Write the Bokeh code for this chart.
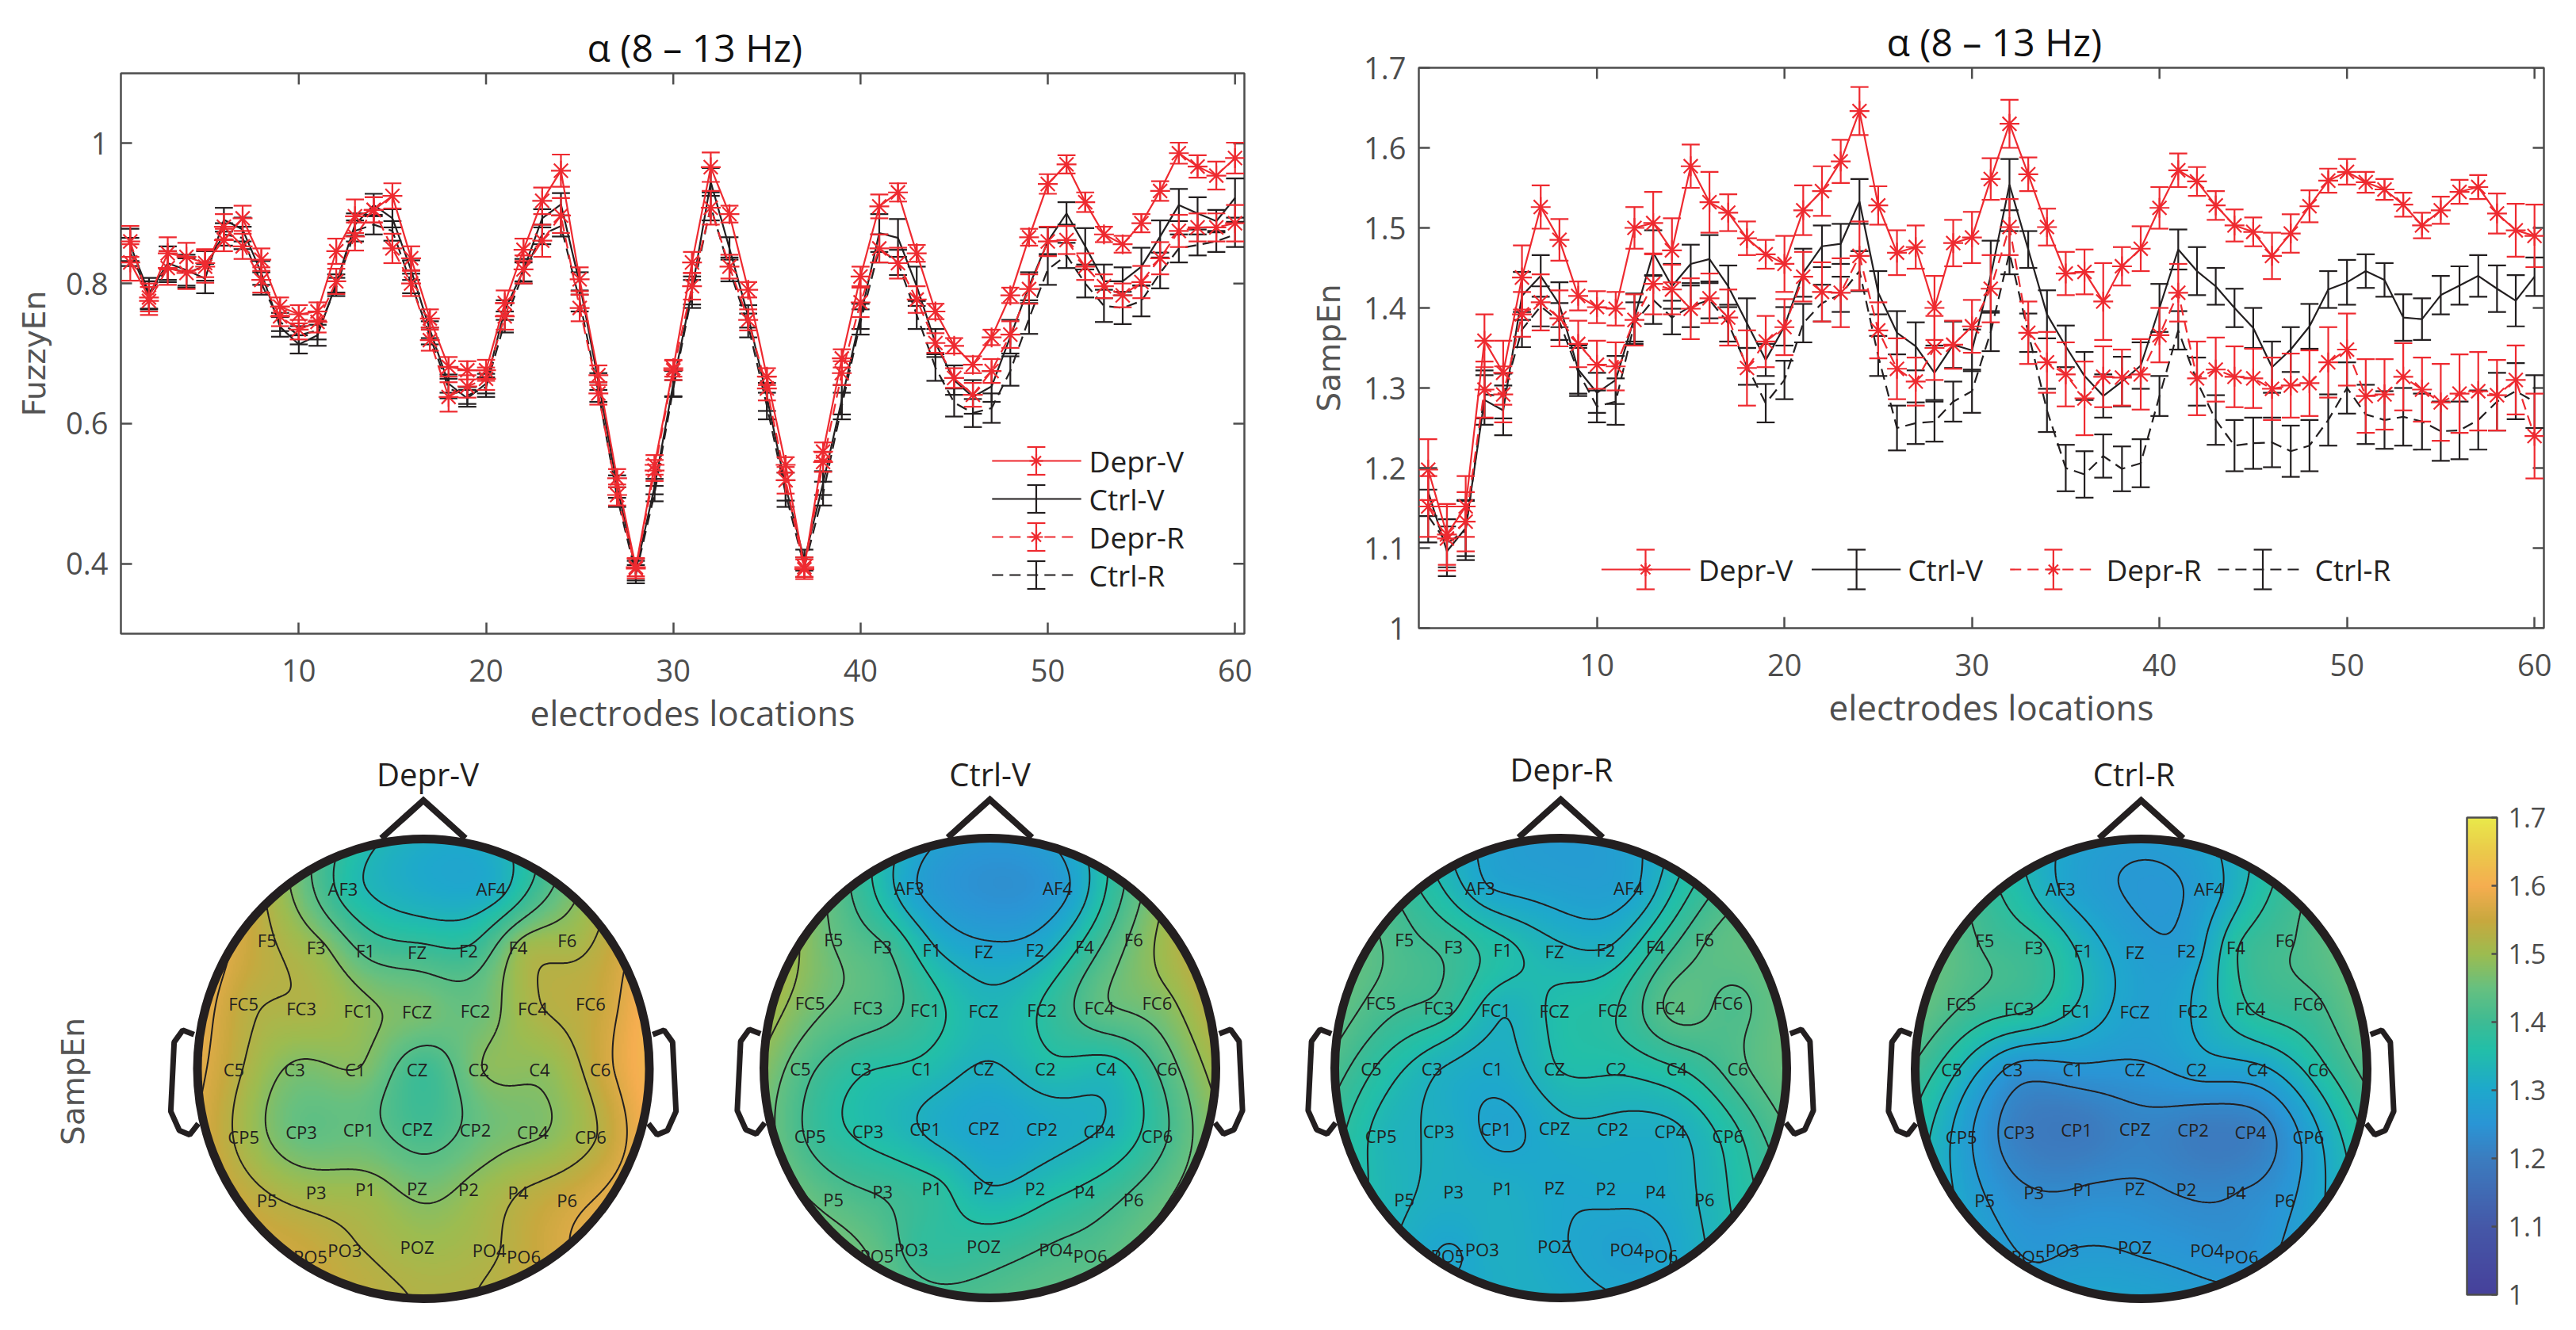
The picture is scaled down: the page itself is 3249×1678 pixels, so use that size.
import numpy as np
from bokeh.embed import file_html
from bokeh.resources import INLINE
from bokeh.plotting import figure
from bokeh.layouts import column, row
from bokeh.core.properties import value
from bokeh.models import FixedTicker, Title, Range1d, LinearColorMapper, ColorBar

# ---------- data ----------
ELECTRODE = [1 + i for i in range(60)]
FUZZY_DV = [.83,.78,.843,.838,.829,.862,.893,.834,.767,.756,.76,.846,.896,.905,.925,.836,.75,.681,.676,.676,
            .772,.848,.918,.961,.806,.669,.522,.395,.541,.679,.83,.966,.899,.791,.667,.541,.395,.56,.693,.81,
            .91,.93,.843,.76,.711,.684,.723,.783,.866,.942,.97,.916,.87,.856,.886,.932,.986,.967,.954,.979]
FUZZY_DV_E = [.026,.02,.023,.02,.02,.016,.018,.016,.013,.013,.013,.018,.024,.018,.018,.017,.013,.014,.013,.015,
              .018,.016,.019,.023,.017,.014,.013,.013,.014,.012,.015,.021,.012,.011,.012,.011,.014,.013,.013,.014,
              .017,.013,.012,.011,.011,.012,.011,.011,.012,.014,.013,.014,.011,.012,.013,.014,.015,.016,.02,.022]
FUZZY_CV = [.855,.786,.829,.819,.807,.891,.877,.815,.738,.713,.726,.80,.884,.912,.893,.819,.734,.657,.636,.657,
            .762,.819,.893,.913,.80,.66,.51,.39,.51,.657,.79,.945,.85,.753,.638,.51,.405,.515,.634,.753,
            .872,.865,.796,.715,.662,.638,.653,.724,.796,.86,.90,.853,.803,.803,.824,.867,.912,.90,.889,.922]
FUZZY_CV_E = [.023,.022,.024,.022,.021,.017,.017,.017,.014,.013,.015,.013,.016,.016,.013,.014,.012,.013,.012,.014,
              .014,.016,.013,.016,.016,.012,.016,.014,.011,.018,.02,.02,.016,.016,.02,.02,.015,.017,.021,.018,
              .027,.027,.028,.02,.021,.024,.022,.024,.02,.02,.016,.026,.024,.02,.027,.023,.023,.023,.016,.028]
FUZZY_DR = [.86,.775,.822,.815,.824,.881,.853,.805,.753,.734,.745,.803,.867,.905,.85,.80,.719,.638,.653,.664,
            .753,.82,.861,.897,.765,.643,.498,.393,.533,.676,.796,.908,.824,.748,.65,.519,.392,.545,.672,.773,
            .85,.829,.777,.715,.665,.641,.675,.727,.792,.86,.862,.824,.796,.783,.802,.836,.875,.88,.88,.886]
FUZZY_DR_E = [.022,.02,.024,.023,.023,.018,.018,.018,.014,.014,.015,.018,.02,.018,.021,.018,.015,.021,.016,.016,
              .019,.02,.023,.025,.019,.016,.015,.014,.015,.014,.019,.024,.017,.015,.017,.019,.014,.014,.017,.021,
              .02,.022,.019,.014,.014,.017,.017,.019,.021,.021,.02,.019,.017,.017,.023,.023,.023,.02,.02,.026]
FUZZY_CR = [.845,.783,.824,.815,.825,.87,.865,.80,.745,.726,.733,.795,.875,.884,.875,.80,.725,.65,.64,.652,
            .745,.815,.87,.882,.775,.645,.495,.385,.50,.65,.785,.91,.82,.74,.625,.50,.395,.50,.625,.745,
            .85,.83,.755,.68,.63,.615,.622,.675,.75,.82,.84,.80,.768,.765,.775,.815,.85,.855,.86,.87]
FUZZY_CR_E = [.02,.02,.022,.021,.021,.016,.016,.016,.013,.013,.013,.013,.015,.014,.014,.014,.012,.014,.012,.014,
              .015,.015,.014,.015,.015,.014,.014,.013,.011,.012,.02,.02,.017,.017,.019,.019,.014,.017,.019,.018,
              .02,.018,.02,.019,.02,.02,.021,.021,.022,.022,.018,.02,.023,.023,.022,.022,.02,.015,.015,.018]

SAMP_DV = [1.198,1.117,1.152,1.359,1.319,1.438,1.526,1.485,1.415,1.401,1.399,1.50,1.506,1.472,1.577,1.532,1.519,1.487,1.467,1.455,
           1.522,1.546,1.583,1.646,1.528,1.469,1.476,1.40,1.481,1.488,1.561,1.63,1.567,1.501,1.443,1.445,1.408,1.452,1.474,1.525,
           1.572,1.558,1.528,1.503,1.495,1.465,1.493,1.527,1.559,1.57,1.557,1.548,1.529,1.503,1.522,1.545,1.551,1.518,1.497,1.49]
SAMP_DV_E = [.038,.038,.038,.033,.04,.04,.027,.026,.018,.02,.021,.026,.039,.04,.027,.038,.023,.021,.018,.035,
             .031,.031,.027,.03,.024,.028,.027,.04,.029,.032,.026,.03,.021,.023,.027,.028,.048,.024,.028,.026,
             .021,.018,.018,.02,.018,.029,.024,.02,.015,.016,.013,.013,.015,.016,.017,.015,.015,.025,.033,.039]
SAMP_CV = [1.17,1.096,1.125,1.285,1.272,1.415,1.44,1.404,1.323,1.294,1.31,1.388,1.469,1.427,1.455,1.461,1.427,1.381,1.335,1.377,
           1.444,1.477,1.48,1.533,1.419,1.369,1.352,1.319,1.354,1.347,1.44,1.554,1.473,1.392,1.352,1.315,1.29,1.308,1.328,1.40,
           1.473,1.446,1.427,1.40,1.375,1.326,1.348,1.377,1.423,1.432,1.446,1.435,1.388,1.386,1.416,1.428,1.44,1.424,1.409,1.439]
SAMP_CV_E = [.03,.031,.035,.031,.031,.03,.026,.028,.03,.025,.03,.03,.028,.028,.024,.03,.026,.031,.02,.024,
             .03,.026,.025,.028,.027,.027,.03,.034,.029,.026,.044,.032,.023,.03,.026,.03,.027,.031,.029,.03,
             .025,.03,.023,.024,.025,.032,.028,.028,.023,.028,.021,.021,.029,.026,.024,.024,.026,.029,.032,.024]
SAMP_DR = [1.152,1.112,1.133,1.298,1.292,1.392,1.407,1.387,1.355,1.329,1.327,1.385,1.43,1.423,1.399,1.412,1.388,1.325,1.358,1.376,
           1.439,1.42,1.419,1.465,1.372,1.324,1.308,1.35,1.354,1.377,1.424,1.501,1.369,1.332,1.317,1.287,1.314,1.313,1.317,1.366,
           1.419,1.312,1.323,1.314,1.312,1.299,1.303,1.306,1.332,1.348,1.29,1.292,1.314,1.298,1.282,1.293,1.296,1.291,1.31,1.24]
SAMP_DR_E = [.038,.04,.037,.035,.035,.028,.035,.035,.029,.03,.03,.032,.038,.031,.038,.031,.035,.047,.032,.035,
             .031,.037,.043,.043,.035,.038,.03,.04,.03,.033,.042,.035,.039,.038,.04,.046,.038,.035,.044,.034,
             .036,.046,.04,.038,.037,.039,.04,.041,.044,.045,.046,.044,.042,.04,.048,.049,.049,.044,.043,.053]
SAMP_CR = [1.14,1.106,1.122,1.292,1.29,1.373,1.402,1.383,1.32,1.277,1.283,1.381,1.41,1.388,1.402,1.41,1.381,1.327,1.281,1.31,
           1.381,1.406,1.417,1.446,1.34,1.25,1.256,1.258,1.283,1.296,1.37,1.469,1.369,1.272,1.20,1.192,1.215,1.199,1.206,1.29,
           1.372,1.308,1.26,1.228,1.231,1.232,1.221,1.228,1.26,1.30,1.267,1.26,1.264,1.258,1.246,1.247,1.26,1.283,1.296,1.283]
SAMP_CR_E = [.033,.03,.037,.03,.028,.022,.025,.023,.03,.02,.029,.026,.03,.021,.026,.023,.023,.023,.024,.024,
             .024,.023,.022,.025,.025,.028,.026,.025,.025,.027,.024,.027,.024,.027,.029,.029,.027,.028,.03,.025,
             .024,.03,.031,.032,.032,.031,.032,.032,.032,.032,.037,.036,.036,.035,.037,.036,.037,.036,.035,.033]

X_TICKS = [10, 20, 30, 40, 50, 60]
Y1_TICKS = [0.4, 0.6, 0.8, 1.0]
Y2_TICKS = [1.0, 1.1, 1.2, 1.3, 1.4, 1.5, 1.6, 1.7]
SERIES_NAMES = ["Depr-V", "Ctrl-V", "Depr-R", "Ctrl-R"]

# electrodes (order of the x axis) and their places on the head map, head radius = 1
ELEC_NAMES = ["FP1","FPZ","FP2","AF3","AF4","F7","F5","F3","F1","FZ","F2","F4","F6","F8",
              "FT7","FC5","FC3","FC1","FCZ","FC2","FC4","FC6","FT8",
              "T7","C5","C3","C1","CZ","C2","C4","C6","T8",
              "TP7","CP5","CP3","CP1","CPZ","CP2","CP4","CP6","TP8",
              "P7","P5","P3","P1","PZ","P2","P4","P6","P8",
              "PO7","PO5","PO3","POZ","PO4","PO6","PO8","O1","OZ","O2"]
ELEC_U = [-.333,0,.333,-.328,.328,-.879,-.664,-.447,-.228,0,.228,.447,.664,.879,
          -1.03,-.768,-.512,-.258,0,.258,.512,.768,1.03,
          -1.081,-.811,-.542,-.273,0,.273,.542,.811,1.081,
          -1.03,-.768,-.512,-.258,0,.258,.512,.768,1.03,
          -.879,-.664,-.447,-.228,0,.228,.447,.664,.879,
          -.637,-.472,-.32,0,.32,.472,.637,-.333,0,.333]
ELEC_V = [1.037,1.088,1.037,.783,.783,.641,.562,.53,.514,.507,.514,.53,.562,.641,
          .336,.285,.263,.253,.25,.253,.263,.285,.336,
          0,0,0,0,0,0,0,0,0,
          -.336,-.295,-.274,-.264,-.261,-.264,-.274,-.295,-.336,
          -.641,-.57,-.535,-.524,-.519,-.524,-.535,-.57,-.641,
          -.885,-.814,-.788,-.773,-.788,-.814,-.885,-1.037,-1.088,-1.037]
HIDDEN = {"FP1","FPZ","FP2","F7","F8","FT7","FT8","T7","T8","TP7","TP8","P7","P8","PO7","PO8","O1","OZ","O2"}

# colour scale anchors
CB_STOPS = [1.0, 1.1, 1.2, 1.25, 1.3, 1.36, 1.4, 1.45, 1.5, 1.55, 1.6, 1.65, 1.7]
CB_HEX = ["#46419b","#4558a8","#3b7dc0","#2a95d5","#1ea8cc","#22bfa8","#3dbb94","#66c080","#9cbc50","#c8a83e","#f5ad50","#ebc94a","#e9e84a"]

for s in (FUZZY_DV,FUZZY_DV_E,FUZZY_CV,FUZZY_CV_E,FUZZY_DR,FUZZY_DR_E,FUZZY_CR,FUZZY_CR_E,
          SAMP_DV,SAMP_DV_E,SAMP_CV,SAMP_CV_E,SAMP_DR,SAMP_DR_E,SAMP_CR,SAMP_CR_E,ELEC_NAMES,ELEC_U,ELEC_V):
    assert len(s) == 60, len(s)

# ---------- style ----------
RED = "#ee2a30"; BLACK = "#231f20"; GRAY = "#4d4d4d"
LW = 2.2; DASH = "14 8"; CAP = 0.48
TICK_FONT = "Open Sans"

def make_plot(width, height, yr, yticks, left, right, top, bottom, title, ylabel, title_offset, xlabel_offset, ylabel_standoff):
    p = figure(width=width, height=height, x_range=(0.5, 60.5), y_range=yr, output_backend="svg",
               toolbar_location=None, min_border_left=left, min_border_right=right,
               min_border_top=top, min_border_bottom=bottom, background_fill_color="white")
    p.frame_align = False
    p.grid.visible = False
    p.outline_line_color = GRAY; p.outline_line_width = 2.5
    over = {t: ("1" if t == 1.0 else f"{t:.1f}") for t in yticks}
    ax = p.xaxis[0]; ay = p.yaxis[0]
    ax.ticker = FixedTicker(ticks=X_TICKS); ay.ticker = FixedTicker(ticks=yticks)
    ay.major_label_overrides = over
    for a in (ax, ay):
        a.major_tick_in = 14; a.major_tick_out = 0; a.minor_tick_line_color = None
        a.axis_line_color = None; a.major_tick_line_color = GRAY; a.major_tick_line_width = 2.5
        a.major_label_text_font = TICK_FONT; a.major_label_text_font_size = "38px"
        a.major_label_text_color = GRAY
    ax.major_label_standoff = 32; ay.major_label_standoff = 16
    ay.axis_label = ylabel; ay.axis_label_text_font = "DejaVu Sans"; ay.axis_label_text_font_size = "39px"
    ay.axis_label_text_font_style = "normal"; ay.axis_label_text_color = "#555555"; ay.axis_label_standoff = ylabel_standoff
    # ticks along the top and right edges of the box
    hx = (yr[1] - yr[0]) * 14 / (height - top - bottom)
    hy = 60 * 14 / (width - left - right)
    xt = np.array(X_TICKS, float); yt = np.array(yticks, float)
    p.segment(xt, yr[1], xt, yr[1] - hx, line_color=GRAY, line_width=2.5)
    p.segment(60.5, yt, 60.5 - hy, yt, line_color=GRAY, line_width=2.5)
    p.title = Title(text=title, align="left", offset=title_offset, text_font=TICK_FONT, text_font_size="48px",
                    text_font_style="normal", text_color="#111111", standoff=2)
    p.add_layout(Title(text="electrodes locations", align="left", offset=xlabel_offset, text_font=TICK_FONT,
                       text_font_size="44px", text_font_style="normal", text_color=GRAY, standoff=8), "below")
    return p

def draw_series(p, y, e, color, dash, marker):
    x = np.array(ELECTRODE, float); y = np.array(y); e = np.array(e)
    p.line(x, y, line_color=color, line_width=LW, line_dash=dash)
    p.segment(x, y - e, x, y + e, line_color=color, line_width=LW)
    p.segment(x - CAP, y + e, x + CAP, y + e, line_color=color, line_width=LW)
    p.segment(x - CAP, y - e, x + CAP, y - e, line_color=color, line_width=LW)
    if marker:
        p.scatter(x, y, marker="asterisk", size=25, line_color=color, line_width=LW, fill_color=None)

def legend_key(p, name, color, dash, marker, k0, k1, kc, ky, half_h, tx, frame, font):
    # legend geometry is given in page pixels and turned into data units of this plot
    L, R, T, B, x0, x1, y0, y1 = frame
    dx = lambda s: x0 + (s - L) * (x1 - x0) / (R - L)
    dy = lambda s: y0 + (B - s) * (y1 - y0) / (B - T)
    p.line([dx(k0), dx(k1)], [dy(ky), dy(ky)], line_color=color, line_width=LW, line_dash=dash)
    p.line([dx(kc), dx(kc)], [dy(ky - half_h), dy(ky + half_h)], line_color=color, line_width=LW)
    for h in (-half_h, half_h):
        p.line([dx(kc - 11.5), dx(kc + 11.5)], [dy(ky + h), dy(ky + h)], line_color=color, line_width=LW)
    if marker:
        p.scatter([dx(kc)], [dy(ky)], marker="asterisk", size=17, line_color=color, line_width=LW, fill_color=None)
    p.text([dx(tx)], [dy(ky)], text=[name], text_font=value(TICK_FONT), text_font_size=font, text_color=BLACK,
           text_align="left", text_baseline="middle")

ROW1_H = 941

# ---------- top left ----------
p1 = make_plot(1642, ROW1_H, (0.3, 1.1), Y1_TICKS, 152, 73, 92, ROW1_H - 799, "α (8 – 13 Hz)", "FuzzyEn", 588, 516, 14)
draw_series(p1, FUZZY_CR, FUZZY_CR_E, BLACK, DASH, False)
draw_series(p1, FUZZY_CV, FUZZY_CV_E, BLACK, "solid", False)
draw_series(p1, FUZZY_DR, FUZZY_DR_E, RED, DASH, True)
draw_series(p1, FUZZY_DV, FUZZY_DV_E, RED, "solid", True)
F1 = (152, 1577, 92, 799, 0.5, 60.5, 0.3, 1.1)
for i, (c, d, m) in enumerate([(RED, "solid", True), (BLACK, "solid", False), (RED, DASH, True), (BLACK, DASH, False)]):
    legend_key(p1, SERIES_NAMES[i], c, d, m, 1257, 1370 if d == "solid" else 1362, 1313, 581 + 48 * i, 17.5, 1380, F1, "37px")

# ---------- top right ----------
p2 = make_plot(1590, ROW1_H, (1.0, 1.7), Y2_TICKS, 147, 24, 85, ROW1_H - 792, "α (8 – 13 Hz)", "SampEn", 590, 517, 18)
draw_series(p2, SAMP_CR, SAMP_CR_E, BLACK, DASH, False)
draw_series(p2, SAMP_CV, SAMP_CV_E, BLACK, "solid", False)
draw_series(p2, SAMP_DR, SAMP_DR_E, RED, DASH, True)
draw_series(p2, SAMP_DV, SAMP_DV_E, RED, "solid", True)
F2 = (1787, 3216, 85, 792, 0.5, 60.5, 1.0, 1.7)
KEYS = [(2019, 2132, 2075, 2142, RED, "solid", True), (2286, 2399, 2343, 2408, BLACK, "solid", False),
        (2538, 2642, 2593, 2660, RED, DASH, True), (2802, 2906, 2859, 2925, BLACK, DASH, False)]
for i, (k0, k1, kc, tx, c, d, m) in enumerate(KEYS):
    legend_key(p2, SERIES_NAMES[i], c, d, m, k0, k1, kc, 718, 25, tx, F2, "37px")

# ---------- head maps ----------
grid_stops = np.array(CB_STOPS)
rgb = np.array([[int(h[j:j + 2], 16) for j in (1, 3, 5)] for h in CB_HEX], float)
lv = np.linspace(1.0, 1.7, 256)
PALETTE = ["#%02x%02x%02x" % tuple(int(round(np.interp(v, grid_stops, rgb[:, c]))) for c in range(3)) for v in lv]
mapper = LinearColorMapper(palette=PALETTE, low=1.0, high=1.7, nan_color="rgba(0,0,0,0)")

USED = [i for i, n in enumerate(ELEC_NAMES) if n not in HIDDEN]

def biharmonic(vals, n=301):
    xy = np.array([[ELEC_U[i], ELEC_V[i]] for i in USED])
    v = np.array([vals[i] for i in USED])
    d = np.linalg.norm(xy[:, None] - xy[None], axis=2)
    with np.errstate(divide="ignore", invalid="ignore"):
        G = d ** 2 * (np.log(d) - 1)
    G[d == 0] = 0
    w = np.linalg.solve(G, v)
    g = np.linspace(-1, 1, n)
    X, Y = np.meshgrid(g, g)
    D = np.sqrt((X[..., None] - xy[:, 0]) ** 2 + (Y[..., None] - xy[:, 1]) ** 2)
    with np.errstate(divide="ignore", invalid="ignore"):
        K = D ** 2 * (np.log(D) - 1)
    K = np.nan_to_num(K)
    Z = (K * w).sum(axis=2)
    Z[X ** 2 + Y ** 2 > 1] = np.nan
    return X, Y, Z

EAR_U = [-1.015, -1.065, -1.103, -1.118, -1.08, -1.034, -0.996]
EAR_V = [0.149, 0.168, 0.116, -0.185, -0.268, -0.287, -0.238]
NOSE_U = [-.186, 0, .186]
NOSE_V = [1.003, 1.168, 1.003]
RX, RY = 285, 290
ROW_TOP, ROW_H = ROW1_H, 729

def make_head(x0, x1, cx, cy, vals, title, tx, ty):
    p = figure(width=x1 - x0, height=ROW_H, output_backend="svg", toolbar_location=None,
               x_range=Range1d((x0 - cx) / RX, (x1 - cx) / RX),
               y_range=Range1d((cy - ROW_TOP - ROW_H) / RY, (cy - ROW_TOP) / RY),
               min_border=0, x_axis_location=None, y_axis_location=None, outline_line_color=None)
    p.frame_align = False
    p.grid.visible = False
    X, Y, Z = biharmonic(vals)
    p.image(image=[Z], x=-1, y=-1, dw=2, dh=2, color_mapper=mapper)
    lo, hi = np.nanmin(Z), np.nanmax(Z)
    lev = list(np.linspace(lo, hi, 8)[1:-1])
    p.contour(X, Y, Z, lev, line_color=BLACK, line_width=2)
    names = [ELEC_NAMES[i] for i in USED]
    us = [ELEC_U[i] - 8 / RX for i in USED]
    vs = [ELEC_V[i] for i in USED]
    p.text(us, vs, text=names, text_font=value(TICK_FONT), text_font_size="22px", text_color=BLACK,
           text_align="center", text_baseline="middle")
    p.ellipse(x=[0], y=[0], width=[2], height=[2], fill_color=None, line_color=BLACK, line_width=11)
    p.line(NOSE_U, NOSE_V, line_color=BLACK, line_width=8, line_join="miter")
    p.line(EAR_U, EAR_V, line_color=BLACK, line_width=7)
    p.line([-u for u in EAR_U], EAR_V, line_color=BLACK, line_width=7)
    p.text([(tx - cx) / RX], [(cy - ty) / RY], text=[title], text_font=value(TICK_FONT), text_font_size="40px",
           text_color=BLACK, text_align="center", text_baseline="middle")
    return p

t1 = make_head(8, 900, 541.5, 1348, SAMP_DV, "Depr-V", 547, 976)
t1.text([(100 - 541.5) / RX], [(1348 - 1364) / RY], text=["SampEn"], angle=np.pi / 2, text_font=value("DejaVu Sans"),
        text_font_size="39px", text_color="#555555", text_align="center", text_baseline="middle")
t2 = make_head(900, 1620, 1256, 1347, SAMP_CV, "Ctrl-V", 1256, 976)
t3 = make_head(1620, 2360, 1976, 1347, SAMP_DR, "Depr-R", 1977, 970)
t4 = make_head(2360, 3100, 2708, 1348, SAMP_CR, "Ctrl-R", 2699, 976)

cbf = figure(width=140, height=ROW_H, output_backend="svg", toolbar_location=None, x_range=Range1d(0, 1), y_range=Range1d(0, 1),
             min_border=0, x_axis_location=None, y_axis_location=None, outline_line_color=None)
cbf.frame_align = False
cbf.grid.visible = False
cb = ColorBar(color_mapper=mapper, location=(19, 37), width=38, height=602, padding=0,
              ticker=FixedTicker(ticks=Y2_TICKS), major_label_overrides={t: ("1" if t == 1.0 else f"{t:.1f}") for t in Y2_TICKS},
              major_tick_in=7, major_tick_line_color=GRAY, major_tick_line_width=2.5, minor_tick_line_color=None,
              bar_line_color=GRAY, bar_line_width=2.5, border_line_color=None, background_fill_alpha=0,
              major_label_text_font=TICK_FONT, major_label_text_font_size="34px", major_label_text_color=GRAY, label_standoff=14)
cbf.add_layout(cb)

page = column(row(p1, p2, spacing=0), row(t1, t2, t3, t4, cbf, spacing=0), spacing=0)
open("out.html", "w").write(file_html(page, INLINE))
